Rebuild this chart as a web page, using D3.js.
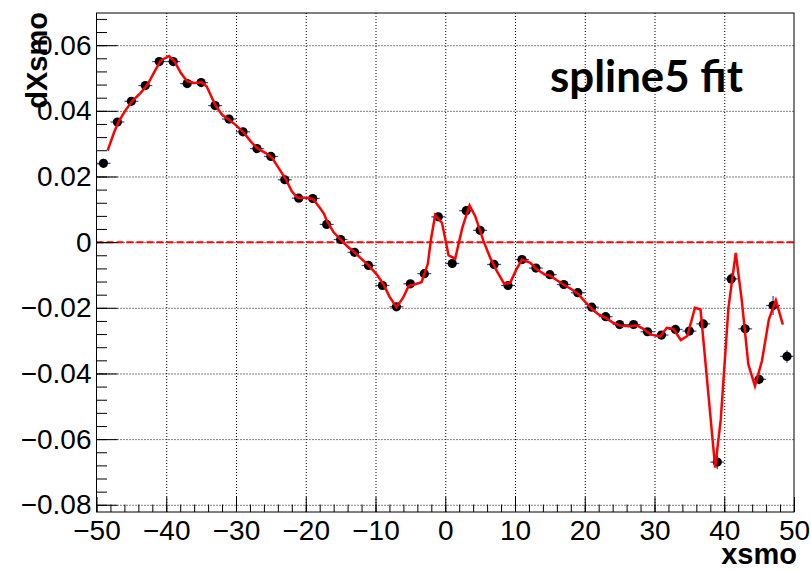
<!DOCTYPE html>
<html><head><meta charset="utf-8">
<script src="https://cdn.jsdelivr.net/npm/d3@7"></script>
<style>body{margin:0;background:#fff}svg{display:block}</style>
</head><body>
<svg id="c" width="811" height="570"></svg>
<script>
// ---- data ----
const pointX = [-49,-47,-45,-43,-41,-39,-37,-35,-33,-31,
                -29,-27,-25,-23,-21,-19,-17,-15,-13,-11,
                -9,-7,-5,-3,-1,1,3,5,7,9,
                11,13,15,17,19,21,23,25,27,29,
                31,33,35,37,39,41,43,45,47,49];
const pointY = [0.0240,0.0366,0.0429,0.0477,0.0550,0.0550,0.0483,0.0486,0.0416,0.0375,
                0.0336,0.0285,0.0261,0.0190,0.0134,0.0133,0.0054,0.0008,-0.0031,-0.0071,
                -0.0132,-0.0197,-0.0127,-0.0096,0.0077,-0.0065,0.0096,0.0036,-0.0068,-0.0132,
                -0.0053,-0.0079,-0.0099,-0.0129,-0.0154,-0.0198,-0.0227,-0.0251,-0.0251,-0.0273,
                -0.0283,-0.0266,-0.0271,-0.0249,-0.0670,-0.0112,-0.0264,-0.0418,-0.0193,-0.0348];
const pointYErr = [0.0014,0.0010,0.0010,0.0010,0.0010,0.0010,0.0010,0.0010,0.0010,0.0010,
                   0.0010,0.0010,0.0010,0.0010,0.0010,0.0010,0.0010,0.0010,0.0010,0.0010,
                   0.0010,0.0010,0.0010,0.0010,0.0010,0.0010,0.0010,0.0010,0.0010,0.0010,
                   0.0010,0.0010,0.0010,0.0010,0.0010,0.0010,0.0010,0.0010,0.0010,0.0010,
                   0.0010,0.0010,0.0010,0.0012,0.0022,0.0018,0.0015,0.0015,0.0029,0.0019];
const pointXErr = 1;

const fitX = [-48.4,-47.5,-46.8,-45.8,-44.9,-43.7,-42.7,-41.8,-40.8,-39.6,
              -38.8,-37.9,-37.0,-36.0,-34.9,-34.2,-33.0,-32.0,-31.0,-30.1,
              -28.9,-27.9,-27.0,-25.8,-24.8,-23.9,-22.9,-22.0,-21.2,-19.8,
              -18.9,-18.2,-17.4,-16.95,-16.0,-15.0,-14.1,-12.9,-11.9,-11.0,
              -9.8,-8.85,-8.0,-7.0,-6.06,-5.26,-4.44,-3.4,-2.5,-2.05,
              -1.45,-0.47,0.48,1.43,2.45,3.48,4.3,5.49,6.45,7.4,
              8.45,9.3,10.2,11.0,12.2,13.1,14.3,15.04,16.0,16.95,
              18.15,19.1,20.06,21.0,21.97,23.17,24.1,25.07,26.3,27.5,
              28.4,29.4,30.8,31.76,32.7,33.77,34.7,35.8,36.6,38.7,
              39.5,40.6,41.65,42.5,43.45,44.4,45.4,46.4,47.4,48.4];
const fitY = [0.0279,0.0333,0.0368,0.0403,0.0429,0.0454,0.0479,0.0515,0.0553,0.0567,
              0.0550,0.0515,0.0490,0.0485,0.0487,0.0474,0.0419,0.0388,0.0373,0.0358,
              0.0334,0.0307,0.0287,0.0272,0.0256,0.0226,0.0193,0.0155,0.0135,0.0135,
              0.0130,0.0111,0.0087,0.0064,0.0030,0.0008,-0.0012,-0.0033,-0.0053,-0.0071,
              -0.0099,-0.0129,-0.0166,-0.0198,-0.0170,-0.0134,-0.0129,-0.0122,-0.0066,0.0008,
              0.0082,0.0059,-0.0040,-0.0050,0.0044,0.0112,0.0079,0.0003,-0.0048,-0.0088,
              -0.0127,-0.0124,-0.0083,-0.0053,-0.0063,-0.0083,-0.0099,-0.0102,-0.0116,-0.0129,
              -0.0144,-0.0159,-0.0182,-0.0203,-0.0220,-0.0233,-0.0246,-0.0254,-0.0256,-0.0254,
              -0.0264,-0.0281,-0.0288,-0.0261,-0.0264,-0.0298,-0.0286,-0.0200,-0.0205,-0.0687,
              -0.0540,-0.0200,-0.0033,-0.0175,-0.0372,-0.0438,-0.0362,-0.0235,-0.0177,-0.0251];

const xTickValues = [-50,-40,-30,-20,-10,0,10,20,30,40,50];
const xTickLabels = ["\u221250","\u221240","\u221230","\u221220","\u221210","0","10","20","30","40","50"];
const yTickValues = [0.06,0.04,0.02,0,-0.02,-0.04,-0.06,-0.08];
const yTickLabels = ["0.06","0.04","0.02","0","\u22120.02","\u22120.04","\u22120.06","\u22120.08"];
const xMinorStep = 2, yMinorStep = 0.004;
const titleText = "spline5 fit";
const xTitle = "xsmo", yTitle = "dXsmo";

// ---- layout ----
const L = 96.5, R = 794, T = 13, B = 512;
const x = d3.scaleLinear().domain([-50, 50]).range([L, R]);
const y = d3.scaleLinear().domain([-0.0822, 0.0698]).range([B, T]);
const svg = d3.select("#c");
const FONT = "'Liberation Sans', Arial, Helvetica, sans-serif";

svg.append("rect").attr("width", 811).attr("height", 570).attr("fill", "#fff");

// grid
svg.append("g").attr("transform", `translate(0,${B})`)
  .call(d3.axisBottom(x).tickValues(xTickValues.slice(1, -1)).tickSize(-(B - T)).tickFormat(""))
  .call(g => g.select(".domain").remove())
  .selectAll("line").attr("stroke", "#000").attr("stroke-dasharray", "1,2").attr("stroke-width", 1);
svg.append("g").attr("transform", `translate(${L},0)`)
  .call(d3.axisLeft(y).tickValues(yTickValues).tickSize(-(R - L)).tickFormat(""))
  .call(g => g.select(".domain").remove())
  .selectAll("line").attr("stroke", "#000").attr("stroke-dasharray", "1,2").attr("stroke-width", 1);

// zero line
svg.append("line").attr("x1", x(-50)).attr("x2", x(50)).attr("y1", y(0)).attr("y2", y(0))
  .attr("stroke", "#ff0000").attr("stroke-width", 2).attr("stroke-dasharray", "7,3");

// minor ticks
const xMinor = d3.range(-50, 50.001, xMinorStep);
const yMinor = d3.range(-0.08, 0.0698, yMinorStep).filter(v => v >= -0.0822);
svg.append("g").attr("transform", `translate(0,${B})`)
  .call(d3.axisBottom(x).tickValues(xMinor).tickSize(-7.5).tickFormat(""))
  .call(g => g.select(".domain").remove())
  .selectAll("line").attr("stroke", "#000");
svg.append("g").attr("transform", `translate(${L},0)`)
  .call(d3.axisLeft(y).tickValues(yMinor).tickSize(-10.5).tickFormat(""))
  .call(g => g.select(".domain").remove())
  .selectAll("line").attr("stroke", "#000");

// major ticks + labels
const xa = svg.append("g").attr("transform", `translate(0,${B})`)
  .call(d3.axisBottom(x).tickValues(xTickValues).tickSize(-15).tickPadding(8)
    .tickFormat((d, i) => xTickLabels[i]));
xa.select(".domain").remove();
xa.selectAll("line").attr("stroke", "#000");
xa.selectAll("text").attr("font-family", FONT).attr("font-size", 28).attr("fill", "#000");

const ya = svg.append("g").attr("transform", `translate(${L},0)`)
  .call(d3.axisLeft(y).tickValues(yTickValues).tickSize(-21).tickPadding(5)
    .tickFormat((d, i) => yTickLabels[i]));
ya.select(".domain").remove();
ya.selectAll("line").attr("stroke", "#000");
ya.selectAll("text").attr("font-family", FONT).attr("font-size", 28).attr("fill", "#000");

// frame
svg.append("rect").attr("x", L).attr("y", T).attr("width", R - L).attr("height", B - T)
  .attr("fill", "none").attr("stroke", "#000").attr("stroke-width", 1);

// error bars
const pts = pointX.map((d, i) => ({x: d, y: pointY[i], e: pointYErr[i]}));
const eb = svg.append("g").attr("stroke", "#3344bb").attr("stroke-width", 1.2);
eb.selectAll("line.h").data(pts).join("line")
  .attr("x1", d => x(d.x - pointXErr)).attr("x2", d => x(d.x + pointXErr))
  .attr("y1", d => y(d.y)).attr("y2", d => y(d.y));
eb.selectAll("line.v").data(pts).join("line").attr("class", "v")
  .attr("x1", d => x(d.x)).attr("x2", d => x(d.x))
  .attr("y1", d => y(d.y - d.e)).attr("y2", d => y(d.y + d.e));

// markers
svg.append("g").selectAll("circle").data(pts).join("circle")
  .attr("cx", d => x(d.x)).attr("cy", d => y(d.y)).attr("r", 4.6).attr("fill", "#000");

// fit curve
const fitData = fitX.map((d, i) => [d, fitY[i]]);
svg.append("path").datum(fitData)
  .attr("d", d3.line().x(d => x(d[0])).y(d => y(d[1])))
  .attr("fill", "none").attr("stroke", "#ff0000").attr("stroke-width", 2.5)
  .attr("stroke-linejoin", "miter");

// titles
svg.append("text").attr("x", 797).attr("y", 564).attr("text-anchor", "end")
  .attr("font-family", FONT).attr("font-weight", "bold").attr("font-size", 29).text(xTitle);
svg.append("text").attr("transform", "translate(47,12) rotate(-90)").attr("text-anchor", "end")
  .attr("font-family", FONT).attr("font-weight", "bold").attr("font-size", 29).text(yTitle);

const tt = svg.append("text").attr("x", 550).attr("y", 92)
  .attr("font-family", "Lato, 'Open Sans', sans-serif").attr("font-weight", "bold")
  .attr("font-size", 38).text(titleText);
const w = tt.node().getComputedTextLength();
tt.attr("font-size", 38 * 193 / w);
</script>
</body></html>
